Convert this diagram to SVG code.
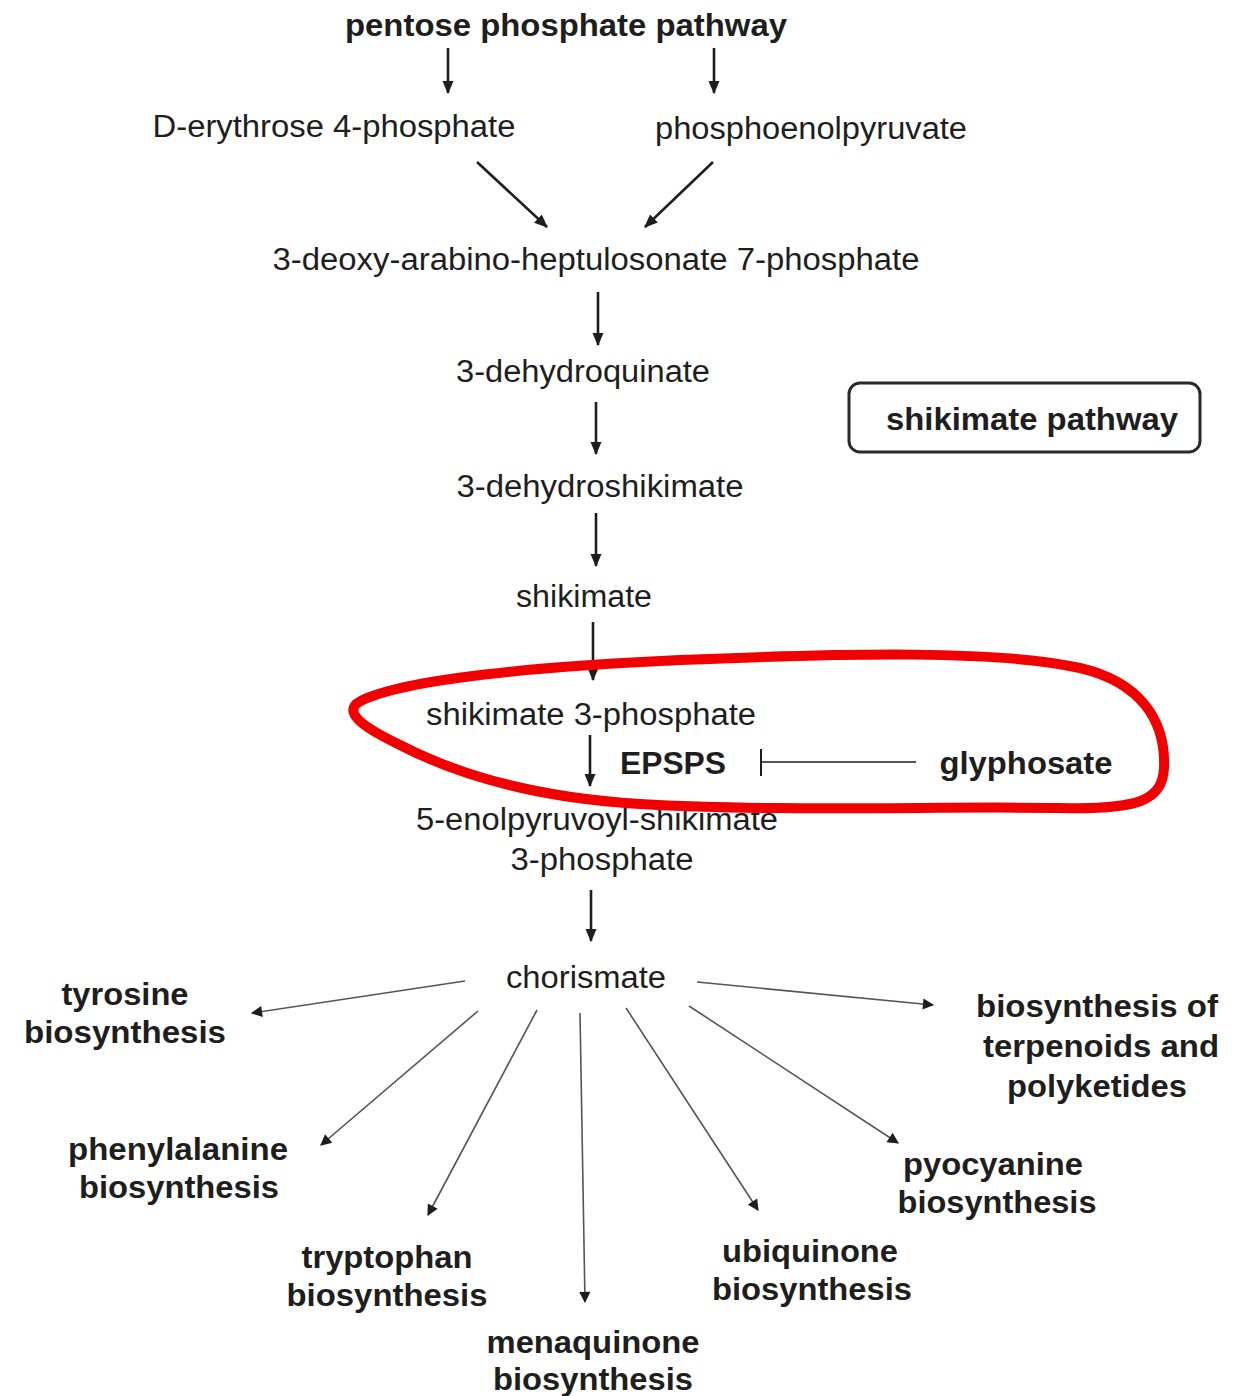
<svg xmlns="http://www.w3.org/2000/svg" width="1251" height="1396" viewBox="0 0 1251 1396">
<style>
text{font-family:"Liberation Sans",Arial,sans-serif;font-size:31px;fill:#1e1e1e;text-anchor:middle}
.b{font-weight:bold}
.main{stroke:#1e1e1e;stroke-width:2.6;fill:none;marker-end:url(#ah)}
.thin{stroke:#555;stroke-width:1.6;fill:none;marker-end:url(#sh)}
</style>
<defs>
<marker id="ah" viewBox="0 0 12 10" refX="11" refY="5" markerWidth="5.2" markerHeight="4.4" markerUnits="strokeWidth" orient="auto"><path d="M0,0 L12,5 L0,10 Z" fill="#1e1e1e"/></marker>
<marker id="sh" viewBox="0 0 10 10" refX="9" refY="5" markerWidth="8" markerHeight="7" markerUnits="strokeWidth" orient="auto"><path d="M0,0 L10,5 L0,10 Z" fill="#1e1e1e"/></marker>
</defs>
<rect width="1251" height="1396" fill="#fff"/>
<g id="connectors">
<line class="main" x1="448" y1="48" x2="448" y2="93"/>
<line class="main" x1="714" y1="48" x2="714" y2="93"/>
<line class="main" x1="477" y1="162" x2="547" y2="227"/>
<line class="main" x1="713" y1="162" x2="645" y2="227"/>
<line class="main" x1="598" y1="292" x2="598" y2="345"/>
<line class="main" x1="596" y1="402" x2="596" y2="454"/>
<line class="main" x1="596" y1="513" x2="596" y2="566"/>
<line class="main" x1="593" y1="622" x2="593" y2="680"/>
<line class="main" x1="590" y1="735" x2="590" y2="786"/>
<line class="main" x1="591" y1="890" x2="591" y2="941"/>
<line stroke="#1e1e1e" stroke-width="2" x1="761" y1="749" x2="761" y2="776"/>
<line stroke="#1e1e1e" stroke-width="1.6" x1="761" y1="762" x2="916" y2="762"/>
<line class="thin" x1="465" y1="981" x2="252" y2="1013"/>
<line class="thin" x1="697" y1="982" x2="933" y2="1005"/>
<line class="thin" x1="478" y1="1011" x2="321" y2="1145"/>
<line class="thin" x1="537" y1="1010" x2="428" y2="1215"/>
<line class="thin" x1="580" y1="1013" x2="585" y2="1302"/>
<line class="thin" x1="626" y1="1008" x2="758" y2="1210"/>
<line class="thin" x1="689" y1="1006" x2="898" y2="1143"/>
</g>
<g id="n-ppp"><text class="b" x="566" y="36" textLength="442" lengthAdjust="spacingAndGlyphs">pentose phosphate pathway</text></g>
<g id="n-e4p"><text x="334" y="137" textLength="363" lengthAdjust="spacingAndGlyphs">D-erythrose 4-phosphate</text></g>
<g id="n-pep"><text x="811" y="139" textLength="312" lengthAdjust="spacingAndGlyphs">phosphoenolpyruvate</text></g>
<g id="n-dahp"><text x="596" y="270" textLength="647" lengthAdjust="spacingAndGlyphs">3-deoxy-arabino-heptulosonate 7-phosphate</text></g>
<g id="n-dhq"><text x="583" y="382" textLength="254" lengthAdjust="spacingAndGlyphs">3-dehydroquinate</text></g>
<g id="n-dhs"><text x="600" y="497" textLength="287" lengthAdjust="spacingAndGlyphs">3-dehydroshikimate</text></g>
<g id="n-shik"><text x="584" y="607" textLength="136" lengthAdjust="spacingAndGlyphs">shikimate</text></g>
<g id="n-s3p"><text x="591" y="725" textLength="330" lengthAdjust="spacingAndGlyphs">shikimate 3-phosphate</text></g>
<g id="n-epsps"><text class="b" x="673" y="774" textLength="106" lengthAdjust="spacingAndGlyphs">EPSPS</text></g>
<g id="n-gly"><text class="b" x="1026" y="774" textLength="173" lengthAdjust="spacingAndGlyphs">glyphosate</text></g>
<g id="n-eps3p"><text x="597" y="830" textLength="362" lengthAdjust="spacingAndGlyphs">5-enolpyruvoyl-shikimate</text><text x="602" y="870" textLength="183" lengthAdjust="spacingAndGlyphs">3-phosphate</text></g>
<g id="n-chor"><text x="586" y="988" textLength="160" lengthAdjust="spacingAndGlyphs">chorismate</text></g>
<g id="n-box"><rect x="849" y="383" width="351" height="69" rx="11" fill="none" stroke="#2a2a2a" stroke-width="3"/><text class="b" x="1032" y="430" textLength="292" lengthAdjust="spacingAndGlyphs">shikimate pathway</text></g>
<g id="n-tyr"><text class="b" x="125" y="1005" textLength="127" lengthAdjust="spacingAndGlyphs">tyrosine</text><text class="b" x="125" y="1043" textLength="202" lengthAdjust="spacingAndGlyphs">biosynthesis</text></g>
<g id="n-phe"><text class="b" x="178" y="1160" textLength="220" lengthAdjust="spacingAndGlyphs">phenylalanine</text><text class="b" x="179" y="1198" textLength="200" lengthAdjust="spacingAndGlyphs">biosynthesis</text></g>
<g id="n-trp"><text class="b" x="387" y="1268" textLength="171" lengthAdjust="spacingAndGlyphs">tryptophan</text><text class="b" x="387" y="1306" textLength="201" lengthAdjust="spacingAndGlyphs">biosynthesis</text></g>
<g id="n-mena"><text class="b" x="593" y="1353" textLength="213" lengthAdjust="spacingAndGlyphs">menaquinone</text><text class="b" x="593" y="1390" textLength="200" lengthAdjust="spacingAndGlyphs">biosynthesis</text></g>
<g id="n-ubi"><text class="b" x="810" y="1262" textLength="176" lengthAdjust="spacingAndGlyphs">ubiquinone</text><text class="b" x="812" y="1300" textLength="200" lengthAdjust="spacingAndGlyphs">biosynthesis</text></g>
<g id="n-pyo"><text class="b" x="993" y="1175" textLength="180" lengthAdjust="spacingAndGlyphs">pyocyanine</text><text class="b" x="997" y="1213" textLength="199" lengthAdjust="spacingAndGlyphs">biosynthesis</text></g>
<g id="n-terp"><text class="b" x="1097" y="1017" textLength="242" lengthAdjust="spacingAndGlyphs">biosynthesis of</text><text class="b" x="1101" y="1057" textLength="236" lengthAdjust="spacingAndGlyphs">terpenoids and</text><text class="b" x="1097" y="1097" textLength="180" lengthAdjust="spacingAndGlyphs">polyketides</text></g>
<g id="highlight"><path d="M356,704 C384,684 500,668 680,660 C850,653 1000,650 1080,668 C1140,682 1166,720 1164,768 C1162,800 1140,810 1060,808 C940,806 780,812 640,804 C540,798 460,776 400,745 C365,728 346,715 356,704 Z" fill="none" stroke="#f20000" stroke-width="10" stroke-linejoin="round"/></g>
</svg>
